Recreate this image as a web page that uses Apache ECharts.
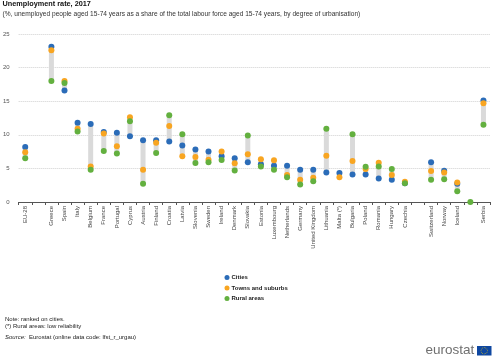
<!DOCTYPE html>
<html><head><meta charset="utf-8">
<script src="https://cdn.jsdelivr.net/npm/echarts@6/dist/echarts.min.js"></script>
<style>html,body{margin:0;padding:0;background:#fff}#c{width:500px;height:364px}</style>
</head><body><div id="c"></div>
<script>
var categories = ['EU-28',' ','Greece','Spain','Italy','Belgium','France','Portugal','Cyprus','Austria','Finland','Croatia','Latvia','Slovenia','Sweden','Ireland','Denmark','Slovakia','Estonia','Luxembourg','Netherlands','Germany','United Kingdom','Lithuania','Malta (*)','Bulgaria','Poland','Romania','Hungary','Czechia','  ','Switzerland','Norway','Iceland','   ','Serbia'];
var cities = [8.2,null,23.1,16.6,11.8,11.6,10.4,10.3,9.8,9.2,9.2,9.0,8.4,7.8,7.5,6.8,6.5,5.9,5.6,5.4,5.4,4.8,4.8,4.4,4.3,4.1,4.1,3.5,3.3,2.8,null,5.9,4.65,2.7,null,15.1];
var towns = [7.4,null,22.6,18.0,10.9,5.3,10.2,8.3,12.6,4.8,8.8,11.3,6.8,6.7,6.3,7.5,5.75,7.1,6.35,6.2,4.0,3.3,3.6,6.9,3.7,6.1,4.9,5.85,4.0,3.0,null,4.6,4.4,2.9,null,14.7];
var rural = [6.5,null,18.0,17.7,10.5,4.8,7.6,7.2,12.0,2.7,7.3,12.9,10.1,5.8,5.9,6.25,4.7,9.9,5.3,4.8,3.7,2.6,3.1,10.9,null,10.1,5.25,5.3,4.9,2.8,null,3.3,3.4,1.6,0,11.5];
var yTicks = {min:0, max:25, interval:5};

var base = [], span = [];
for (var i = 0; i < categories.length; i++) {
  var v = [cities[i], towns[i], rural[i]].filter(function(x){return x !== null;});
  if (!v.length) { base.push(null); span.push(null); continue; }
  var lo = Math.min.apply(null, v), hi = Math.max.apply(null, v);
  base.push(lo); span.push(+(hi - lo).toFixed(3));
}

var FF = '"Liberation Sans", Arial, sans-serif';
var chart = echarts.init(document.getElementById('c'), null, {renderer:'canvas'});

var stars = [];
for (var k = 0; k < 12; k++) {
  var a = k * Math.PI / 6;
  stars.push({type:'circle', shape:{cx:484.2 + 3.2*Math.cos(a), cy:350.7 + 3.2*Math.sin(a), r:0.45}, style:{fill:'#f5d000'}});
}

chart.setOption({
  animation:false,
  textStyle:{fontFamily:FF},
  grid:{left:16.5, right:10, top:34, height:168, containLabel:false},
  legend:{
    data:['Cities','Towns and suburbs','Rural areas'],
    orient:'vertical', left:219.5, top:268.5,
    icon:'circle', itemWidth:5, itemHeight:5, itemGap:2.5,
    textStyle:{fontSize:6, fontWeight:'bold', color:'#222', fontFamily:FF, lineHeight:8, padding:[0,0,0,-3]}
  },
  xAxis:{
    type:'category', data:categories, boundaryGap:true,
    axisLine:{lineStyle:{color:'#555', width:1}},
    axisTick:{show:true, length:3, lineStyle:{color:'#555'}},
    axisLabel:{rotate:90, interval:0, fontSize:6, color:'#444', margin:4, fontFamily:FF}
  },
  yAxis:{
    type:'value', min:yTicks.min, max:yTicks.max, interval:yTicks.interval,
    axisLine:{show:false}, axisTick:{show:false},
    axisLabel:{fontSize:6, color:'#555', margin:9, fontFamily:FF},
    splitLine:{lineStyle:{color:'#d0d0d0', type:[1,1], width:1}}
  },
  series:[
    {name:'base', type:'bar', stack:'r', data:base, barWidth:5, itemStyle:{color:'transparent'}, silent:true},
    {name:'range', type:'bar', stack:'r', data:span, barWidth:5, itemStyle:{color:'#dadada'}, silent:true},
    {name:'Cities', type:'scatter', data:cities, symbolSize:6, itemStyle:{color:'#2b6cb8', opacity:1}},
    {name:'Towns and suburbs', type:'scatter', data:towns, symbolSize:6, itemStyle:{color:'#f8a521', opacity:1}},
    {name:'Rural areas', type:'scatter', data:rural, symbolSize:6, itemStyle:{color:'#63b03f', opacity:1}}
  ],
  graphic:[
    {type:'text', left:2.5, top:0.5, style:{text:'Unemployment rate, 2017', font:'bold 7.3px ' + FF, fill:'#111'}},
    {type:'text', left:2.5, top:10.5, style:{text:'(%, unemployed people aged 15-74 years as a share of the total labour force aged 15-74 years, by degree of urbanisation)', font:'6.6px ' + FF, fill:'#333'}},
    {type:'text', left:5, top:316, style:{text:'Note: ranked on cities.', font:'6px ' + FF, fill:'#222'}},
    {type:'text', left:5, top:323.5, style:{text:'(*) Rural areas: low reliability', font:'6px ' + FF, fill:'#222'}},
    {type:'text', left:5, top:331.3, style:{rich:{i:{fontStyle:'italic', fontSize:6, fontFamily:FF, fill:'#222'}, n:{fontSize:6, fontFamily:FF, fill:'#222'}}, text:'{i|Source:} {n|Eurostat (online data code: lfst_r_urgau)}'}},
    {type:'text', left:425.5, top:343, style:{text:'eurostat', font:'13.5px ' + FF, fill:'#6f6f6f'}},
    {type:'group', children:[{type:'rect', shape:{x:477, y:346, width:14.5, height:9.5}, style:{fill:'#0e47a1'}}].concat(stars)}
  ]
});
</script></body></html>
